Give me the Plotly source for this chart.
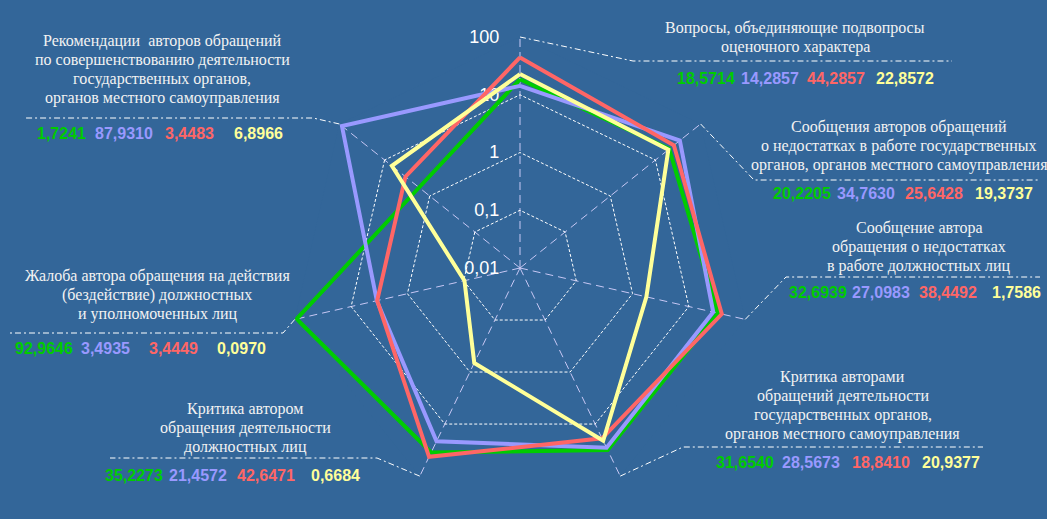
import math
import plotly.graph_objects as go

W, H = 1047, 519

# ---------------- data ----------------
categories = [
    "Вопросы, объединяющие подвопросы оценочного характера",
    "Сообщения авторов обращений о недостатках в работе государственных органов, органов местного самоуправления",
    "Сообщение автора обращения о недостатках в работе должностных лиц",
    "Критика авторами обращений деятельности государственных органов, органов местного самоуправления",
    "Критика автором обращения деятельности должностных лиц",
    "Жалоба автора обращения на действия (бездействие) должностных и уполномоченных лиц",
    "Рекомендации авторов обращений по совершенствованию деятельности государственных органов, органов местного самоуправления",
]
label_lines = [
    ["Вопросы, объединяющие подвопросы", "оценочного характера"],
    ["Сообщения авторов обращений", "о недостатках в работе государственных",
     "органов, органов местного самоуправления"],
    ["Сообщение автора", "обращения о недостатках", "в работе должностных лиц"],
    ["Критика авторами", "обращений деятельности", "государственных органов,",
     "органов местного самоуправления"],
    ["Критика автором", "обращения деятельности", "должностных лиц"],
    ["Жалоба автора обращения на действия", "(бездействие) должностных",
     "и уполномоченных лиц"],
    ["Рекомендации  авторов обращений", "по совершенствованию деятельности",
     "государственных органов,", "органов местного самоуправления"],
]
green_values = [18.5714, 20.2205, 32.6939, 31.6540, 35.2273, 92.9646, 1.7241]
blue_values = [14.2857, 34.7630, 27.0983, 28.5673, 21.4572, 3.4935, 87.9310]
red_values = [44.2857, 25.6428, 38.4492, 18.8410, 42.6471, 3.4449, 3.4483]
yellow_values = [22.8572, 19.3737, 1.7586, 20.9377, 0.6684, 0.0970, 6.8966]
tick_vals = [0.01, 0.1, 1, 10, 100]
tick_text = ["0,01", "0,1", "1", "10", "100"]

# ---------------- styles / layout positions (pixels) ----------------
BG = "#336699"
series = [
    (green_values, "#00cc00"),
    (blue_values, "#9999ff"),
    (red_values, "#ff6666"),
    (yellow_values, "#ffff99"),
]
CX, CY, R = 520, 268, 231   # polar centre and radius in pixels

# per label: centre x, first line y, elbow point, underline end x, values y, value x starts
label_pos = [
    dict(cx=795, y0=28, elbow=(633, 61), end=952, vy=78, vx=[675, 739, 805, 874]),
    dict(cx=899, y0=127, elbow=(754, 180), end=1040, vy=193, vx=[771, 835, 903, 973]),
    dict(cx=919, y0=228, elbow=(786, 277), end=1040, vy=292, vx=[787, 850, 917, 990]),
    dict(cx=843, y0=377, elbow=(683, 447), end=983, vy=462, vx=[714, 780, 850, 920]),
    dict(cx=245, y0=409, elbow=(377, 458), end=110, vy=475, vx=[103, 167, 235, 309]),
    dict(cx=157, y0=276, elbow=(283, 333), end=8, vy=348, vx=[13, 79, 147, 215]),
    dict(cx=162, y0=41, elbow=(313, 118), end=25, vy=133, vx=[35, 93, 163, 232]),
]
LINE_STEP = 19


def px(x, y):
    return x / W, 1 - y / H


def fmt(v):
    return f"{v:.4f}".replace(".", ",")


fig = go.Figure()
for vals, col in series:
    fig.add_trace(go.Scatterpolar(
        r=vals + [vals[0]],
        theta=categories + [categories[0]],
        mode="lines",
        line=dict(color=col, width=4),
        showlegend=False,
        hoverinfo="skip",
    ))

annotations = []
shapes = []
n = len(categories)
for i, pos in enumerate(label_pos):
    for k, line in enumerate(label_lines[i]):
        x, y = px(pos["cx"], pos["y0"] + k * LINE_STEP)
        annotations.append(dict(
            x=x, y=y, xref="paper", yref="paper", text=line, showarrow=False,
            xanchor="center", yanchor="middle",
            font=dict(family="'Liberation Serif', serif", size=16, color="#f2f2f2"),
        ))
    for j, (vals, col) in enumerate(series):
        x, y = px(pos["vx"][j], pos["vy"])
        annotations.append(dict(
            x=x, y=y, xref="paper", yref="paper", text="<b>" + fmt(vals[i]) + "</b>",
            showarrow=False, xanchor="left", yanchor="middle",
            font=dict(family="'Liberation Sans', Arial, sans-serif", size=16, color=col),
        ))
    a = math.radians(i * 360 / n)
    vx, vy = CX + R * math.sin(a), CY - R * math.cos(a)
    ex, ey = pos["elbow"]
    p0 = px(vx, vy)
    p1 = px(ex, ey)
    p2 = px(pos["end"], ey)
    shapes.append(dict(
        type="path", xref="paper", yref="paper",
        path=f"M {p0[0]},{p0[1]} L {p1[0]},{p1[1]} L {p2[0]},{p2[1]}",
        line=dict(color="white", width=1, dash="6px,3px,2px,3px"),
    ))

fig.update_layout(
    width=W, height=H, autosize=False,
    margin=dict(l=0, r=0, t=0, b=0),
    paper_bgcolor=BG, plot_bgcolor=BG,
    polar=dict(
        domain=dict(x=[(CX - R) / W, (CX + R) / W], y=[1 - (CY + R) / H, 1 - (CY - R) / H]),
        bgcolor=BG,
        gridshape="linear",
        radialaxis=dict(
            type="log", range=[-2, 2.001], angle=90, tickangle=90, side="counterclockwise",
            tickvals=tick_vals, ticktext=tick_text,
            showline=False, ticks="outside", ticklen=14, tickcolor="rgba(0,0,0,0)",
            gridcolor="white", griddash="3px,2px", gridwidth=1,
            tickfont=dict(family="'Liberation Sans', Arial, sans-serif", size=18, color="white"),
            layer="below traces",
        ),
        angularaxis=dict(
            type="category", direction="clockwise", rotation=90,
            showticklabels=False, ticks="", showline=False,
            gridcolor="#c8c8f5", griddash="8px,5px", gridwidth=1.3,
            layer="below traces",
        ),
    ),
    annotations=annotations,
    shapes=shapes,
)

fig.write_html("out.html", config={"displayModeBar": False},
               post_script="document.body.style.margin='0';")
